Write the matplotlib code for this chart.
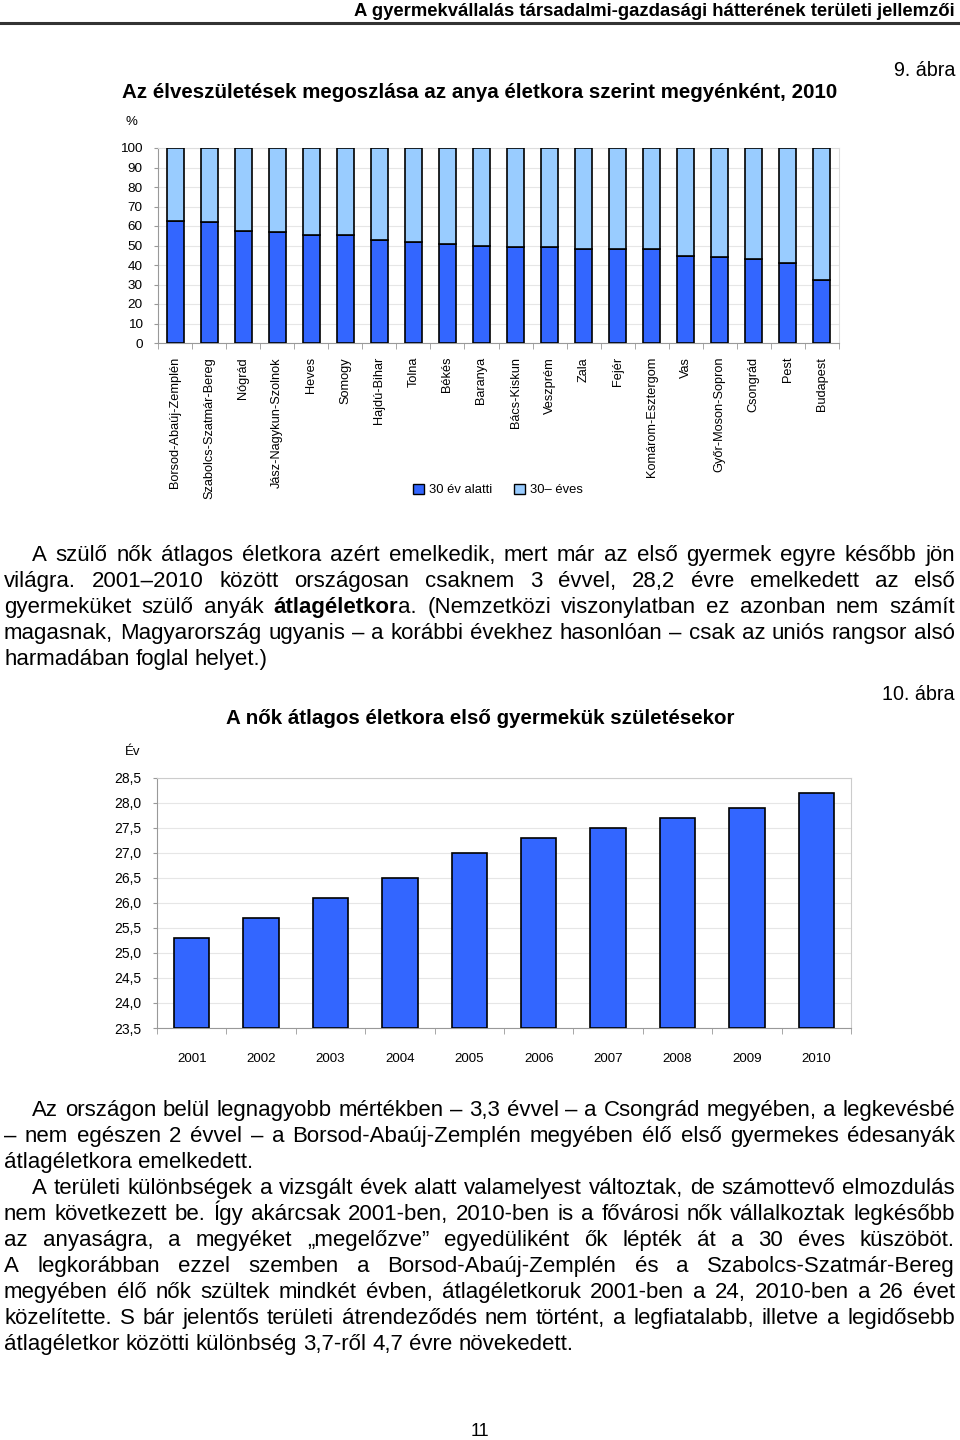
import matplotlib
matplotlib.use("Agg")
import matplotlib.pyplot as plt
from matplotlib.patches import Patch
from matplotlib.ticker import FixedLocator

plt.rcParams['font.family'] = ['Liberation Sans', 'DejaVu Sans']

# --- data: 9. ábra ---
megyek = ["Borsod-Abaúj-Zemplén", "Szabolcs-Szatmár-Bereg", "Nógrád", "Jász-Nagykun-Szolnok",
          "Heves", "Somogy", "Hajdú-Bihar", "Tolna", "Békés", "Baranya", "Bács-Kiskun",
          "Veszprém", "Zala", "Fejér", "Komárom-Esztergom", "Vas", "Győr-Moson-Sopron",
          "Csongrád", "Pest", "Budapest"]
alatt_30 = [62.5, 61.8, 57.6, 56.9, 55.5, 55.5, 52.6, 52.0, 50.6, 49.7, 49.2,
            49.2, 48.2, 48.2, 48.2, 44.8, 44.1, 43.3, 41.1, 32.5]
felett_30 = [100 - v for v in alatt_30]
sorozat_nevek = ["30 év alatti", "30– éves"]

# --- data: 10. ábra ---
evek = ["2001", "2002", "2003", "2004", "2005", "2006", "2007", "2008", "2009", "2010"]
atlag_eletkor = [25.3, 25.7, 26.1, 26.5, 27.0, 27.3, 27.5, 27.7, 27.9, 28.2]
y2_ticks = [23.5, 24.0, 24.5, 25.0, 25.5, 26.0, 26.5, 27.0, 27.5, 28.0, 28.5]

# --- body text (lines as printed, justified) ---
bekezdes1 = [
    "A szülő nők átlagos életkora azért emelkedik, mert már az első gyermek egyre később jön",
    "világra. 2001–2010 között országosan csaknem 3 évvel, 28,2 évre emelkedett az első",
    "gyermeküket szülő anyák **átlagéletkor**a. (Nemzetközi viszonylatban ez azonban nem számít",
    "magasnak, Magyarország ugyanis – a korábbi évekhez hasonlóan – csak az uniós rangsor alsó",
    "harmadában foglal helyet.)",
]
bekezdes2 = [
    "Az országon belül legnagyobb mértékben – 3,3 évvel – a Csongrád megyében, a legkevésbé",
    "– nem egészen 2 évvel – a Borsod-Abaúj-Zemplén megyében élő első gyermekes édesanyák",
    "átlagéletkora emelkedett.",
]
bekezdes3 = [
    "A területi különbségek a vizsgált évek alatt valamelyest változtak, de számottevő elmozdulás",
    "nem következett be. Így akárcsak 2001-ben, 2010-ben is a fővárosi nők vállalkoztak legkésőbb",
    "az anyaságra, a megyéket „megelőzve” egyedüliként ők lépték át a 30 éves küszöböt.",
    "A legkorábban ezzel szemben a Borsod-Abaúj-Zemplén és a Szabolcs-Szatmár-Bereg",
    "megyében élő nők szültek mindkét évben, átlagéletkoruk 2001-ben a 24, 2010-ben a 26 évet",
    "közelítette. S bár jelentős területi átrendeződés nem történt, a legfiatalabb, illetve a legidősebb",
    "átlagéletkor közötti különbség 3,7-ről 4,7 évre növekedett.",
]

W, H = 960, 1440
DARK = "#3366FF"
LIGHT = "#99CCFF"
GRID = "#E6E6E6"
BODY = 16.0

fig = plt.figure(figsize=(9.6, 14.4), dpi=100)
renderer = fig.canvas.get_renderer()


def fx(px):
    return px / W


def fy(py):
    return 1 - py / H


def runs_of(word):
    # split "**bold**rest" into (text, weight) runs
    out = []
    parts = word.split("**")
    for i, p in enumerate(parts):
        if p:
            out.append((p, "bold" if i % 2 == 1 else "normal"))
    return out


def space_width(size):
    a = fig.text(0, 0, "a a", fontsize=size)
    b = fig.text(0, 0, "aa", fontsize=size)
    w = a.get_window_extent(renderer).width - b.get_window_extent(renderer).width
    a.remove()
    b.remove()
    return w


def text_line(line, y, x0, x1, size, justify):
    base = y + size * 0.42  # baseline from visual centre, in px
    items = []
    for w in line.split(" "):
        group = []
        for t, wt in runs_of(w):
            tx = fig.text(0, fy(base), t, fontsize=size, fontweight=wt, va="baseline", ha="left")
            group.append((tx, tx.get_window_extent(renderer).width))
        items.append(group)
    widths = [sum(g[1] for g in grp) for grp in items]
    if justify and len(items) > 1:
        gap = (x1 - x0 - sum(widths)) / (len(items) - 1)
    else:
        gap = space_width(size)
    x = x0
    for grp, wd in zip(items, widths):
        xx = x
        for tx, w in grp:
            tx.set_x(fx(xx))
            xx += w
        x += wd + gap


def paragraph(lines, y0, size=BODY, indent=28, step=26.1):
    for i, ln in enumerate(lines):
        last = i == len(lines) - 1
        x0 = 4 + (indent if i == 0 else 0)
        text_line(ln, y0 + i * step, x0, 955, size, not last)


# --- page header ---
fig.text(fx(955), fy(11), "A gyermekvállalás társadalmi-gazdasági hátterének területi jellemzői",
         fontweight="bold", fontsize=13.3, ha="right", va="center")
fig.add_artist(plt.Line2D([0, 1], [fy(23), fy(23)], color="#333333", lw=2.2))

# --- 9. ábra ---
fig.text(fx(955), fy(70), "9. ábra", fontsize=14.2, ha="right", va="center")
fig.text(fx(122), fy(93), "Az élveszületések megoszlása az anya életkora szerint megyénként, 2010",
         fontsize=14.8, fontweight="bold", ha="left", va="center")
fig.text(fx(131), fy(122), "%", fontsize=9.5, ha="center", va="center")

ax1 = fig.add_axes([fx(158), fy(343), fx(839 - 158), (343 - 148) / H])
xs = list(range(len(megyek)))
ax1.bar(xs, alatt_30, width=0.5, color=DARK, edgecolor="black", linewidth=1.2, zorder=3)
ax1.bar(xs, felett_30, bottom=alatt_30, width=0.5, color=LIGHT, edgecolor="black",
        linewidth=1.2, zorder=3)
ax1.set_xlim(-0.5, len(megyek) - 0.5)
ax1.set_ylim(0, 100)
ax1.set_yticks(range(0, 101, 10))
ax1.set_yticklabels([str(v) for v in range(0, 101, 10)], fontsize=9.7)
ax1.set_xticks(xs)
ax1.set_xticklabels(megyek, rotation=90, fontsize=9.2, va="top", ha="center")
ax1.xaxis.set_minor_locator(FixedLocator([i - 0.5 for i in range(len(megyek) + 1)]))
ax1.tick_params(axis="x", which="major", length=0, pad=10)
ax1.tick_params(axis="x", which="minor", length=4, color="#999999")
ax1.tick_params(axis="y", length=3, color="#999999", pad=8)
ax1.grid(axis="y", color=GRID, lw=0.8, zorder=0)
for s in ["left", "bottom"]:
    ax1.spines[s].set_color("#999999")
for s in ["top", "right"]:
    ax1.spines[s].set_color("#DDDDDD")

fig.legend(handles=[Patch(facecolor=DARK, edgecolor="black", label=sorozat_nevek[0]),
                    Patch(facecolor=LIGHT, edgecolor="black", label=sorozat_nevek[1])],
           loc="center", bbox_to_anchor=(fx(498), fy(490)), ncol=2, frameon=False,
           fontsize=9.4, handlelength=0.8, handleheight=0.9, handletextpad=0.4,
           columnspacing=1.7)

paragraph(bekezdes1, 554)

# --- 10. ábra ---
fig.text(fx(955), fy(695), "10. ábra", fontsize=14.2, ha="right", va="center")
fig.text(fx(480), fy(719), "A nők átlagos életkora első gyermekük születésekor",
         fontsize=14.8, fontweight="bold", ha="center", va="center")
fig.text(fx(133), fy(752), "Év", fontsize=9.5, ha="center", va="center")

ax2 = fig.add_axes([fx(157), fy(1028), fx(851 - 157), (1028 - 777.5) / H])
xs2 = list(range(len(evek)))
ax2.bar(xs2, [v - 23.5 for v in atlag_eletkor], bottom=23.5, width=0.51, color=DARK,
        edgecolor="black", linewidth=1.2, zorder=3)
ax2.set_xlim(-0.5, len(evek) - 0.5)
ax2.set_ylim(23.5, 28.5)
ax2.set_yticks(y2_ticks)
ax2.set_yticklabels([f"{v:.1f}".replace(".", ",") for v in y2_ticks], fontsize=10)
ax2.set_xticks(xs2)
ax2.set_xticklabels(evek, fontsize=9.6)
ax2.xaxis.set_minor_locator(FixedLocator([i - 0.5 for i in range(len(evek) + 1)]))
ax2.tick_params(axis="x", which="major", length=0, pad=18)
ax2.tick_params(axis="x", which="minor", length=4, color="#999999")
ax2.tick_params(axis="y", length=3, color="#999999", pad=8)
ax2.grid(axis="y", color=GRID, lw=0.8, zorder=0)
for s in ["left", "bottom"]:
    ax2.spines[s].set_color("#999999")
for s in ["top", "right"]:
    ax2.spines[s].set_color("#CCCCCC")

paragraph(bekezdes2, 1109)
paragraph(bekezdes3, 1187)

fig.text(fx(480), fy(1432), "11", fontsize=13, ha="center", va="center")

fig.savefig("out.png", dpi=100, facecolor="white")
